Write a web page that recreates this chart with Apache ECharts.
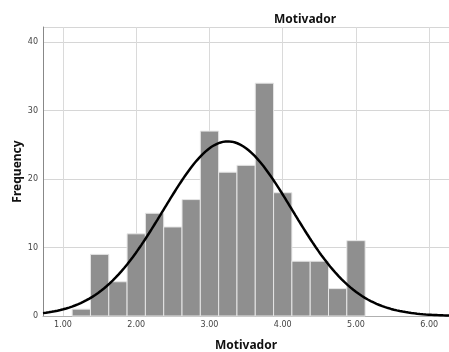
<!DOCTYPE html>
<html>
<head>
<meta charset="utf-8">
<script src="https://cdn.jsdelivr.net/npm/echarts@6/dist/echarts.min.js"></script>
<style>
  html, body { margin: 0; padding: 0; background: #fff; }
  #chart { width: 449px; height: 352px; }
</style>
</head>
<body>
<div id="chart"></div>
<script>
// Histogram of Motivador scores, bins of width 0.25
const binStarts = [1.125, 1.375, 1.625, 1.875, 2.125, 2.375, 2.625, 2.875,
                   3.125, 3.375, 3.625, 3.875, 4.125, 4.375, 4.625, 4.875];
const binWidth = 0.25;
const frequencies = [1, 9, 5, 12, 15, 13, 17, 27, 21, 22, 34, 18, 8, 8, 4, 11];

// Fitted normal curve parameters
const curveMean = 3.25;
const curveSd = 0.88;
const sampleSize = frequencies.reduce((a, b) => a + b, 0);

// Axis tick labels
const xTicks = [1, 2, 3, 4, 5, 6];
const yTicks = [0, 10, 20, 30, 40];

const xMin = 0.727, xMax = 6.27;

const histData = binStarts.map((s, i) => [s, s + binWidth, frequencies[i]]);

const curveData = [];
for (let i = 0; i <= 280; i++) {
  const x = xMin + (xMax - xMin) * i / 280;
  const z = (x - curveMean) / curveSd;
  const y = sampleSize * binWidth / (curveSd * Math.sqrt(2 * Math.PI)) * Math.exp(-0.5 * z * z);
  curveData.push([x, y]);
}

const chart = echarts.init(document.getElementById('chart'));
const font = 'DejaVu Sans, sans-serif';
const titleFont = 'Noto Sans, sans-serif';

chart.setOption({
  animation: false,
  title: {
    text: 'Motivador',
    left: 300,
    top: 9,
    textAlign: 'center',
    textStyle: { fontFamily: titleFont, fontSize: 12, fontWeight: 'bold', color: '#111' }
  },
  grid: { left: 43, right: 0, top: 27, bottom: 36, outerBoundsMode: 'none' },
  xAxis: {
    type: 'value',
    min: xMin,
    max: xMax,
    name: 'Motivador',
    nameLocation: 'middle',
    nameGap: 24,
    nameMoveOverlap: false,
    nameTextStyle: { fontFamily: titleFont, fontSize: 12, fontWeight: 'bold', color: '#111' },
    axisLine: { show: true, lineStyle: { color: '#b0b0b0', width: 1 } },
    axisTick: { show: false, customValues: xTicks },
    axisLabel: {
      customValues: xTicks,
      formatter: v => v.toFixed(2),
      fontFamily: font, fontSize: 8, color: '#444', margin: 5
    },
    splitLine: { show: true, lineStyle: { color: '#dadada', width: 1 } }
  },
  yAxis: {
    type: 'value',
    min: 0,
    max: 42.2,
    interval: 10,
    name: 'Frequency',
    nameLocation: 'middle',
    nameGap: 19,
    nameMoveOverlap: false,
    nameTextStyle: { fontFamily: titleFont, fontSize: 12, fontWeight: 'bold', color: '#111' },
    axisLine: { show: true, lineStyle: { color: '#888', width: 1 } },
    axisTick: { show: false },
    axisLabel: {
      customValues: yTicks,
      fontFamily: font, fontSize: 8, color: '#444', margin: 5
    },
    splitLine: { show: true, lineStyle: { color: '#d6d6d6', width: 1 } }
  },
  series: [
    {
      type: 'custom',
      data: histData,
      encode: { x: [0, 1], y: 2 },
      renderItem: (params, api) => {
        const p0 = api.coord([api.value(0), 0]);
        const p1 = api.coord([api.value(1), api.value(2)]);
        return {
          type: 'rect',
          shape: { x: p0[0], y: p1[1], width: p1[0] - p0[0], height: p0[1] - p1[1] },
          style: { fill: '#8f8f8f', stroke: '#e6e6e6', lineWidth: 1 }
        };
      },
      z: 2
    },
    {
      type: 'line',
      data: curveData,
      showSymbol: false,
      smooth: false,
      lineStyle: { color: '#000', width: 2.5 },
      z: 3
    }
  ]
});
</script>
</body>
</html>
